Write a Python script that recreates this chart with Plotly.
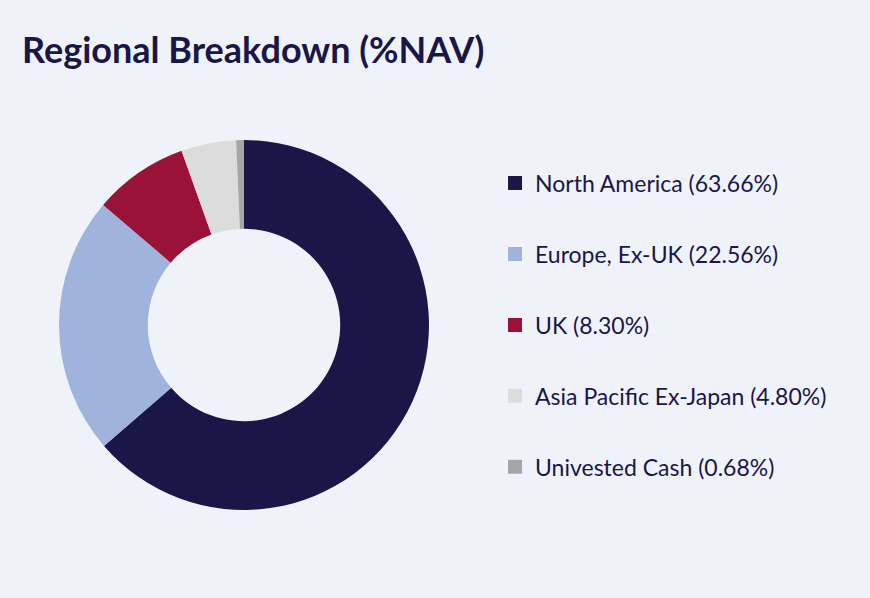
import plotly.graph_objects as go

# Regional split of the fund, % of NAV
regions = ["North America", "Europe, Ex-UK", "UK", "Asia Pacific Ex-Japan", "Univested Cash"]
weights = [63.66, 22.56, 8.30, 4.80, 0.68]
colours = ["#1a1648", "#9fb3dc", "#9b1239", "#dcdcdc", "#a6a6a6"]

navy = "#1a1648"
bg = "#eff3f9"
font = "Source Sans Pro, Lato, sans-serif"

fig = go.Figure()

fig.add_trace(go.Pie(
    labels=regions,
    values=weights,
    marker=dict(colors=colours, line=dict(width=0)),
    hole=0.52,
    sort=False,
    direction="clockwise",
    rotation=0,
    textinfo="none",
    hoverinfo="label+value",
    showlegend=False,
    domain=dict(x=[0.0678, 0.4931], y=[0.1472, 0.7659]),
))

# legend entries as dummy traces so the rows can be spaced out
for i, (name, val, col) in enumerate(zip(regions, weights, colours)):
    fig.add_trace(go.Scatter(
        x=[None], y=[None],
        mode="markers",
        marker=dict(symbol="square", size=14, color=col),
        name=f"{name} ({val:.2f}%)",
        legendgroup=f"g{i}",
    ))

fig.update_layout(
    width=870,
    height=598,
    paper_bgcolor=bg,
    plot_bgcolor=bg,
    margin=dict(l=0, r=0, t=0, b=0),
    title=dict(
        text="<b>Regional Breakdown (%NAV)</b>",
        font=dict(family=font, size=36, color=navy),
        x=22 / 870, xanchor="left", xref="paper",
        y=1 - 50 / 598, yanchor="middle", yref="container",
    ),
    legend=dict(
        x=0.569, y=0.7297, xanchor="left", yanchor="top",
        font=dict(family=font, size=23, color=navy),
        tracegroupgap=38,
        itemclick=False,
        bgcolor="rgba(0,0,0,0)",
    ),
    xaxis=dict(visible=False),
    yaxis=dict(visible=False),
)

# drop the default page margin so the chart sits flush in the window
fig.write_html(
    "out.html",
    config={"displayModeBar": False},
    post_script="document.body.style.margin='0';",
)
